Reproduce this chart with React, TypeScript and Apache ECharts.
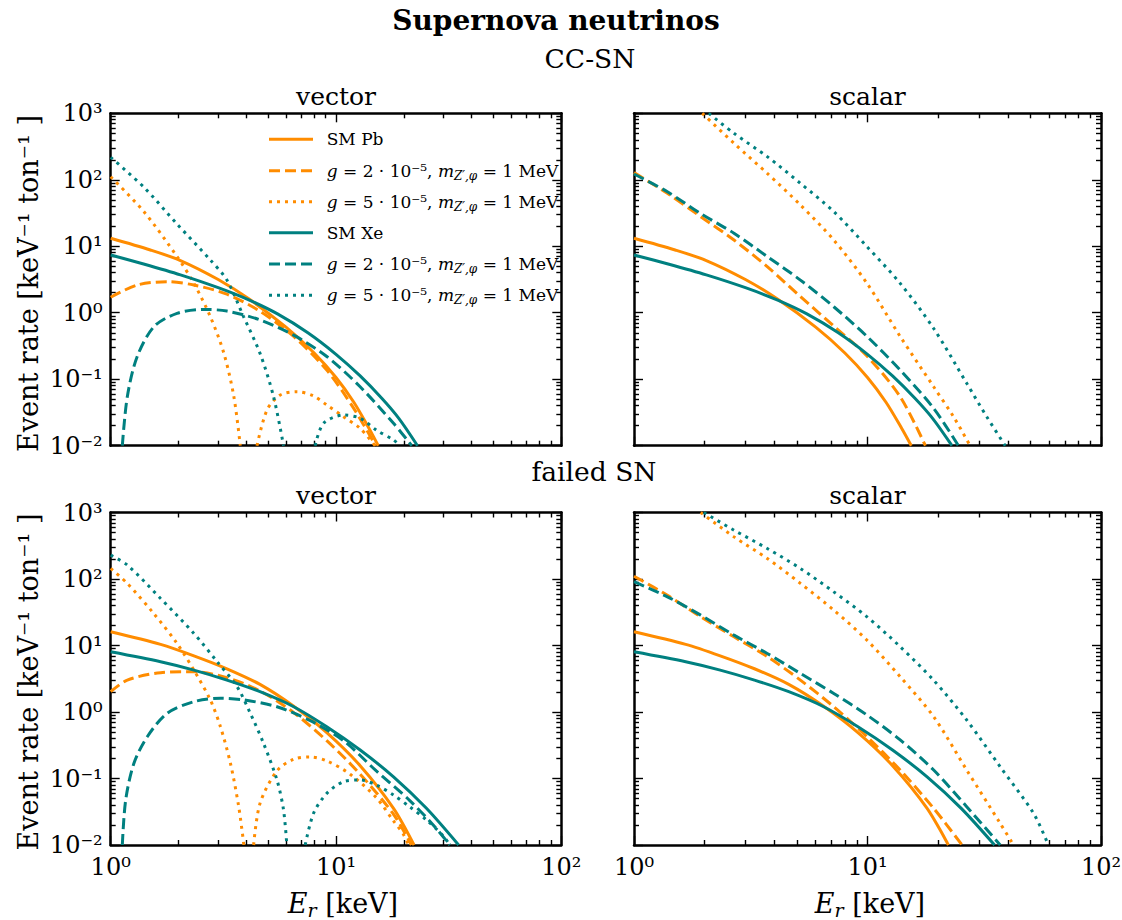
import React, { useEffect, useRef } from 'react';
import * as echarts from 'echarts';

type P = [number, number | null];

const FONT = '"DejaVu Serif", "Liberation Serif", serif';
const ORANGE = '#ff8c00';
const TEAL = '#008080';

// ---- ticks ----
const xTickValues = [1, 10, 100];
const xTickLabels = ['10⁰', '10¹', '10²'];
const yTickValues = [0.01, 0.1, 1, 10, 100, 1000];
const yTickLabels = ['10⁻²', '10⁻¹', '10⁰', '10¹', '10²', '10³'];
const xMinorTicks = [2, 3, 4, 5, 6, 7, 8, 9, 20, 30, 40, 50, 60, 70, 80, 90];
const yMinorTicks = [
  0.02, 0.03, 0.04, 0.05, 0.06, 0.07, 0.08, 0.09,
  0.2, 0.3, 0.4, 0.5, 0.6, 0.7, 0.8, 0.9,
  2, 3, 4, 5, 6, 7, 8, 9,
  20, 30, 40, 50, 60, 70, 80, 90,
  200, 300, 400, 500, 600, 700, 800, 900,
];

const rowTitles = ['CC-SN', 'failed SN'];
const panelTitles = ['vector', 'scalar', 'vector', 'scalar'];
const legendLabels = [
  'SM Pb',
  '{i|g} = 2 · 10⁻⁵, {i|m}{s|Z′,φ} = 1 MeV',
  '{i|g} = 5 · 10⁻⁵, {i|m}{s|Z′,φ} = 1 MeV',
  'SM Xe',
  '{i|g} = 2 · 10⁻⁵, {i|m}{s|Z′,φ} = 1 MeV',
  '{i|g} = 5 · 10⁻⁵, {i|m}{s|Z′,φ} = 1 MeV',
];

// ---- CC-SN ----
const ccSmPb: P[] = [[1, 13.2], [1.5, 8.8], [2.04, 6.1], [3, 3.16], [4.1, 1.62], [6, 0.606], [8, 0.248], [10, 0.106], [12, 0.045], [14, 0.0183], [15.4, 0.01]];
const ccSmXe: P[] = [[1, 7.4], [1.4, 5.41], [2.04, 3.71], [3, 2.38], [4.1, 1.56], [5.5, 0.96], [7.5, 0.5], [10, 0.237], [12.8, 0.112], [16, 0.0513], [19, 0.0258], [23, 0.01]];
const ccVecPbG2: P[] = [[1, 1.71], [1.31, 2.61], [1.78, 2.93], [2.34, 2.61], [3.28, 1.9], [4.6, 1.05], [6.49, 0.44], [9.1, 0.137], [11.95, 0.037], [15.0, 0.01]];
const ccVecPbG5: P[] = [[1, 111], [1.405, 33], [1.97, 7.0], [2.34, 2.77], [2.77, 0.87], [3.18, 0.245], [3.52, 0.055], [3.76, 0.01], [4.1, null], [4.46, 0.01], [4.94, 0.0344], [5.66, 0.058], [6.71, 0.065], [7.95, 0.056], [9.1, 0.041], [10.8, 0.0273], [12.8, 0.0182], [14.9, 0.01]];
const ccVecXeG2: P[] = [[1.126, 0.01], [1.185, 0.0546], [1.31, 0.218], [1.556, 0.617], [1.97, 0.98], [2.59, 1.12], [3.28, 1.06], [4.6, 0.78], [6.49, 0.46], [9.1, 0.22], [12.8, 0.077], [18.0, 0.0217], [21.7, 0.01]];
const ccVecXeG5: P[] = [[1, 218], [1.405, 77], [1.97, 21.6], [2.77, 6.2], [3.28, 3.1], [3.89, 0.87], [4.6, 0.245], [5.28, 0.055], [5.85, 0.01], [7, null], [8.08, 0.01], [8.8, 0.0217], [10.8, 0.0289], [12.8, 0.0259], [15.1, 0.0172], [18, 0.0122], [19.2, 0.01]];
const ccScaPbG2: P[] = [[1, 128], [1.39, 62.5], [1.93, 27.9], [2.68, 12.4], [3.72, 4.93], [5.16, 1.75], [7.17, 0.63], [9.95, 0.223], [13.8, 0.0546], [17.7, 0.01]];
const ccScaPbG5: P[] = [[1.96, 1000], [2.68, 354], [3.72, 125], [5.16, 41.8], [7.17, 12.4], [9.95, 2.77], [13.8, 0.44], [19.2, 0.077], [23.4, 0.027], [27.5, 0.01]];
const ccScaXeG2: P[] = [[1, 122], [1.39, 66], [1.93, 31], [2.68, 15.7], [3.72, 7.0], [5.16, 3.1], [7.17, 1.23], [9.95, 0.44], [13.8, 0.137], [19.2, 0.0365], [24.5, 0.01]];
const ccScaXeG5: P[] = [[2.09, 1000], [2.68, 500], [3.72, 223], [5.16, 88.5], [7.17, 33.2], [9.95, 9.86], [13.8, 2.77], [19.2, 0.58], [26.6, 0.0867], [32.4, 0.0273], [38.9, 0.01]];

// ---- failed SN ----
const fSmPb: P[] = [[1, 16.1], [1.665, 10.4], [2.34, 7.0], [3.28, 4.47], [4.6, 2.6], [6.49, 1.22], [9.1, 0.49], [12.8, 0.156], [18, 0.0356], [22.2, 0.01]];
const fSmXe: P[] = [[1, 8.05], [1.665, 5.7], [2.34, 4.27], [3.28, 3.02], [4.6, 2.02], [6.49, 1.2], [9.1, 0.6], [12.8, 0.268], [18, 0.106], [25.2, 0.0356], [35, 0.01]];
const fVecPbG2: P[] = [[1, 2.02], [1.185, 3.02], [1.665, 3.9], [2.34, 4.04], [3.28, 3.28], [4.6, 2.07], [6.49, 0.98], [9.1, 0.37], [12.8, 0.116], [18, 0.029], [21.6, 0.01]];
const fVecPbG5: P[] = [[1, 144], [1.185, 86], [1.556, 30], [1.97, 10.7], [2.34, 4.27], [2.77, 1.51], [3.07, 0.6], [3.4, 0.169], [3.7, 0.0377], [3.9, 0.01], [4.1, null], [4.31, 0.01], [4.6, 0.0423], [5.47, 0.13], [6.49, 0.195], [7.69, 0.211], [9.1, 0.184], [11.55, 0.116], [15.1, 0.0515], [18, 0.023], [19.9, 0.0145], [21, 0.01]];
const fVecXeG2: P[] = [[1.126, 0.01], [1.165, 0.047], [1.268, 0.169], [1.453, 0.425], [1.78, 0.953], [2.34, 1.43], [3.07, 1.61], [3.89, 1.52], [5.47, 1.2], [7.69, 0.74], [10.8, 0.37], [15.1, 0.13], [21.2, 0.047], [27, 0.02], [32, 0.01]];
const fVecXeG5: P[] = [[1, 228], [1.185, 162], [1.665, 51], [2.34, 15.2], [2.97, 5.7], [3.64, 2.4], [4.17, 0.95], [4.77, 0.337], [5.47, 0.095], [5.85, 0.0336], [6.05, 0.01], [6.6, null], [7.3, 0.01], [7.95, 0.03], [9.1, 0.0597], [10.8, 0.0895], [12.8, 0.095], [15.1, 0.0798], [18, 0.0565], [21.2, 0.0377], [25.2, 0.0238], [29.9, 0.0137], [32, 0.01]];
const fScaPbG2: P[] = [[1, 110], [1.39, 57], [1.93, 27], [2.68, 13.5], [3.72, 6.8], [5.16, 3.02], [7.17, 1.2], [9.95, 0.425], [13.8, 0.134], [19.2, 0.0356], [25.4, 0.01]];
const fScaPbG5: P[] = [[1.93, 1000], [2.68, 430], [3.72, 204], [5.16, 86], [7.17, 34], [9.95, 12], [13.8, 3.39], [19.2, 0.85], [26.6, 0.134], [37, 0.0212], [42.2, 0.01]];
const fScaXeG2: P[] = [[1, 91], [1.39, 54], [1.93, 28.6], [2.68, 14.3], [3.72, 7.6], [5.16, 3.8], [7.17, 1.9], [9.95, 0.9], [13.8, 0.38], [19.2, 0.134], [26.6, 0.0377], [37, 0.01]];
const fScaXeG5: P[] = [[1.99, 1000], [2.68, 542], [3.72, 288], [5.16, 144], [7.17, 64], [9.95, 27], [13.8, 9.6], [19.2, 3.0], [26.6, 0.757], [37, 0.15], [51.4, 0.03], [59.5, 0.01]];

const panelData: P[][][] = [
  [ccSmPb, ccVecPbG2, ccVecPbG5, ccSmXe, ccVecXeG2, ccVecXeG5],
  [ccSmPb, ccScaPbG2, ccScaPbG5, ccSmXe, ccScaXeG2, ccScaXeG5],
  [fSmPb, fVecPbG2, fVecPbG5, fSmXe, fVecXeG2, fVecXeG5],
  [fSmPb, fScaPbG2, fScaPbG5, fSmXe, fScaXeG2, fScaXeG5],
];
const seriesNames = ['SM Pb', 'Pb g=2e-5', 'Pb g=5e-5', 'SM Xe', 'Xe g=2e-5', 'Xe g=5e-5'];

const grids = [
  { left: 110.7, top: 113.3, width: 450.6, height: 332.4 },
  { left: 634, top: 113.3, width: 467, height: 332.4 },
  { left: 110.7, top: 512.5, width: 450.6, height: 332.5 },
  { left: 634, top: 512.5, width: 467, height: 332.5 },
];

const COLORS = [ORANGE, ORANGE, ORANGE, TEAL, TEAL, TEAL];
const DASHES: any[] = ['solid', [11, 5], [3, 5], 'solid', [11, 5], [3, 5]];

function findLabel(v: number, values: number[], labels: string[]) {
  const lv = Math.log10(v);
  for (let i = 0; i < values.length; i++) {
    if (Math.abs(Math.log10(values[i]) - lv) < 1e-6) return labels[i];
  }
  return '';
}

const spine = { color: '#000', width: 2.5 };
const tickLine = { color: '#000', width: 1.4 };

function makeXAxes(gi: number, showLabels: boolean) {
  const base = { type: 'log', logBase: 10, min: 1, max: 100, gridIndex: gi, splitLine: { show: false } };
  return [
    {
      ...base, position: 'bottom',
      axisLine: { show: true, onZero: false, lineStyle: spine },
      axisTick: { show: true, inside: true, length: 9, customValues: xTickValues, lineStyle: tickLine },
      axisLabel: {
        show: showLabels, customValues: xTickValues,
        formatter: (v: number) => findLabel(v, xTickValues, xTickLabels),
        margin: 10, fontSize: 24, fontFamily: FONT, color: '#000',
      },
    },
    {
      ...base, position: 'top',
      axisLine: { show: true, onZero: false, lineStyle: spine },
      axisTick: { show: true, inside: true, length: 9, customValues: xTickValues, lineStyle: tickLine },
      axisLabel: { show: false },
    },
    {
      ...base, position: 'bottom',
      axisLine: { show: false },
      axisTick: { show: true, inside: true, length: 5, customValues: xMinorTicks, lineStyle: tickLine },
      axisLabel: { show: false },
    },
    {
      ...base, position: 'top',
      axisLine: { show: false },
      axisTick: { show: true, inside: true, length: 5, customValues: xMinorTicks, lineStyle: tickLine },
      axisLabel: { show: false },
    },
  ];
}

function makeYAxes(gi: number, showLabels: boolean) {
  const base = { type: 'log', logBase: 10, min: 0.01, max: 1000, gridIndex: gi, splitLine: { show: false } };
  return [
    {
      ...base, position: 'left',
      axisLine: { show: true, onZero: false, lineStyle: spine },
      axisTick: { show: true, inside: true, length: 9, customValues: yTickValues, lineStyle: tickLine },
      axisLabel: {
        show: showLabels, customValues: yTickValues,
        formatter: (v: number) => findLabel(v, yTickValues, yTickLabels),
        margin: 8, fontSize: 24, fontFamily: FONT, color: '#000',
      },
    },
    {
      ...base, position: 'right',
      axisLine: { show: true, onZero: false, lineStyle: spine },
      axisTick: { show: true, inside: true, length: 9, customValues: yTickValues, lineStyle: tickLine },
      axisLabel: { show: false },
    },
    {
      ...base, position: 'left',
      axisLine: { show: false },
      axisTick: { show: true, inside: true, length: 5, customValues: yMinorTicks, lineStyle: tickLine },
      axisLabel: { show: false },
    },
    {
      ...base, position: 'right',
      axisLine: { show: false },
      axisTick: { show: true, inside: true, length: 5, customValues: yMinorTicks, lineStyle: tickLine },
      axisLabel: { show: false },
    },
  ];
}

function txt(text: string, x: number, y: number, size: number, extra: any = {}) {
  return {
    type: 'text', x, y, silent: true,
    style: {
      text, fontFamily: FONT, fontSize: size, fill: '#000',
      align: 'center', verticalAlign: 'middle', ...extra,
    },
  };
}

function buildOption() {
  const xAxis: any[] = [];
  const yAxis: any[] = [];
  const series: any[] = [];
  for (let gi = 0; gi < 4; gi++) {
    xAxis.push(...makeXAxes(gi, gi >= 2));
    yAxis.push(...makeYAxes(gi, gi % 2 === 0));
    panelData[gi].forEach((data, k) => {
      series.push({
        type: 'line',
        name: seriesNames[k],
        xAxisIndex: gi * 4,
        yAxisIndex: gi * 4,
        data,
        symbol: 'none',
        showSymbol: false,
        smooth: 0.3,
        connectNulls: false,
        clip: true,
        silent: true,
        lineStyle: { color: COLORS[k], width: 3, type: DASHES[k], cap: 'butt' },
        itemStyle: { color: COLORS[k] },
      });
    });
  }

  const graphic: any[] = [];
  graphic.push(txt('Supernova neutrinos', 556, 20, 28, { fontWeight: 'bold' }));
  graphic.push(txt(rowTitles[0], 590, 58, 26.5));
  graphic.push(txt(rowTitles[1], 594, 471, 26.5));
  const titleY = [96, 96, 495, 495];
  const titleX = [336, 867.5, 336, 867.5];
  panelTitles.forEach((t, i) => graphic.push(txt(t, titleX[i], titleY[i], 25)));

  // y-axis labels (rotated)
  [283.5, 682].forEach((cy) => {
    graphic.push({
      type: 'text', x: 28, y: cy, rotation: Math.PI / 2, silent: true,
      style: {
        text: 'Event rate [keV⁻¹ ton⁻¹ ]', fontFamily: FONT, fontSize: 27, fill: '#000',
        align: 'center', verticalAlign: 'middle',
      },
    });
  });
  // x-axis labels
  const subRich = {
    i: { fontFamily: FONT, fontSize: 27, fontStyle: 'italic', fill: '#000' },
    s: { fontFamily: FONT, fontSize: 19, fontStyle: 'italic', fill: '#000', padding: [14, 0, 0, 0] },
  };
  [343, 870].forEach((cx) => {
    graphic.push(txt('{i|E}{s|r} [keV]', cx, 903, 27, { rich: subRich }));
  });

  // legend
  const rowsY = [139.3, 170.7, 201.7, 232.7, 264, 295.3];
  const legRich = {
    i: { fontFamily: FONT, fontSize: 17, fontStyle: 'italic', fill: '#000' },
    s: { fontFamily: FONT, fontSize: 12, fontStyle: 'italic', fill: '#000', padding: [10, 0, 0, 0] },
  };
  legendLabels.forEach((lab, k) => {
    const dash = DASHES[k];
    graphic.push({
      type: 'line', silent: true,
      shape: { x1: 269, y1: rowsY[k], x2: 313, y2: rowsY[k] },
      style: { stroke: COLORS[k], lineWidth: 3, lineDash: dash === 'solid' ? null : dash },
    });
    graphic.push({
      type: 'text', x: 326.7, y: rowsY[k], silent: true,
      style: {
        text: lab, fontFamily: FONT, fontSize: 17, fill: '#000',
        align: 'left', verticalAlign: 'middle', rich: legRich,
      },
    });
  });

  return {
    animation: false,
    backgroundColor: '#fff',
    grid: grids.map((g) => ({ ...g, containLabel: false, outerBoundsMode: 'none' })),
    xAxis,
    yAxis,
    series,
    graphic,
  };
}

export default function App() {
  const ref = useRef<HTMLDivElement>(null);
  useEffect(() => {
    const chart = echarts.init(ref.current as HTMLDivElement, null, { renderer: 'svg' });
    chart.setOption(buildOption() as any);
    return () => chart.dispose();
  }, []);
  return (
    <div
      ref={ref}
      style={{ position: 'absolute', left: 0, top: 0, width: 1122, height: 920, background: '#fff' }}
    />
  );
}
